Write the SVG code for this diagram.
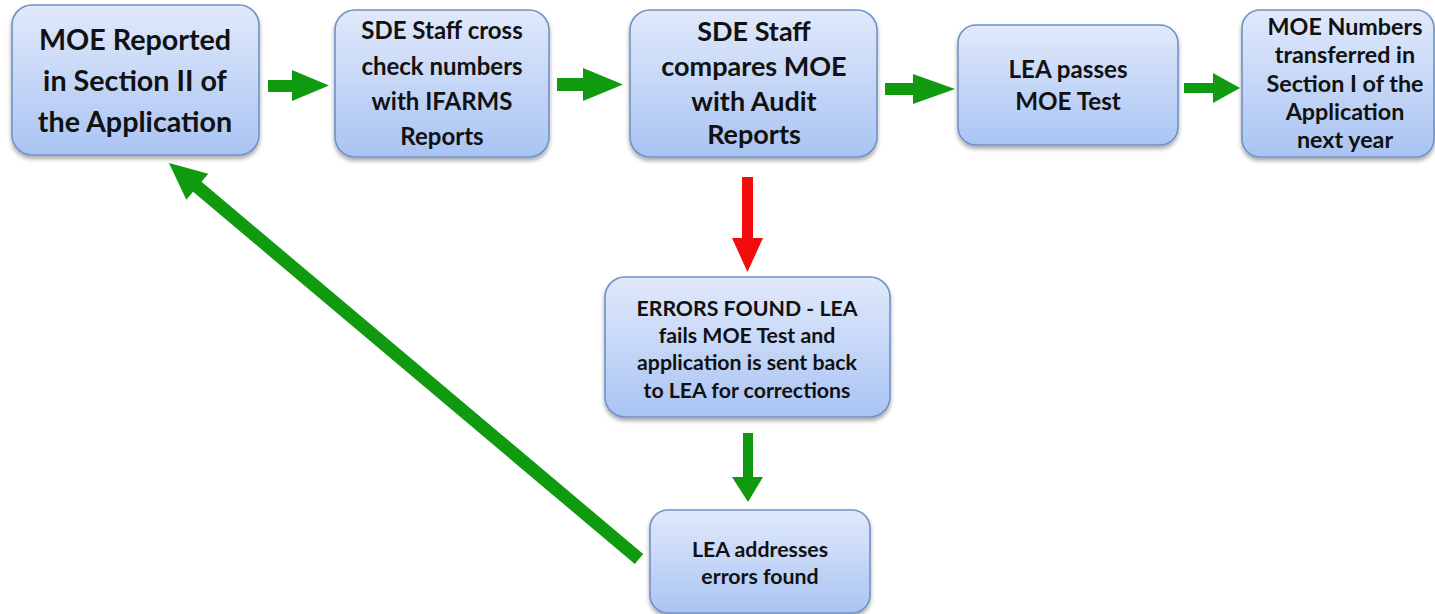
<svg xmlns="http://www.w3.org/2000/svg" width="1435" height="614" viewBox="0 0 1435 614">
<defs>
<linearGradient id="boxGrad" x1="0" y1="0" x2="0" y2="1">
<stop offset="0" stop-color="#e1e9fb"/>
<stop offset="1" stop-color="#a9c4f3"/>
</linearGradient>
<filter id="shadow" x="-10%" y="-10%" width="120%" height="130%">
<feDropShadow dx="0" dy="3" stdDeviation="2.2" flood-color="#000" flood-opacity="0.35"/>
</filter>
</defs>
<style>
.box{fill:url(#boxGrad);stroke:#6f92c6;stroke-width:1.6;filter:url(#shadow);}
.t{font-family:Lato,"Open Sans","Liberation Sans",sans-serif;font-weight:bold;fill:#111;text-anchor:middle;}
.g{fill:#0f9a0f;}
.r{fill:#f20d0d;}
</style>
<rect width="1435" height="614" fill="#fff"/>

<g id="connectors">
<polygon class="g" points="268,80 292,80 292,70 329,85.5 292,101 292,92 268,92"/>
<polygon class="g" points="557,78 583,78 583,68 623,84.5 583,101 583,91 557,91"/>
<polygon class="g" points="885,83 913,83 913,74 955,89 913,104 913,95 885,95"/>
<polygon class="g" points="1184,83 1213,83 1213,73 1240,88 1213,103 1213,93 1184,93"/>
<polygon class="r" points="742,177 753,177 753,238 763,238 747.5,272 732,238 742,238"/>
<polygon class="g" points="743,433 753,433 753,477 763,477 748,502 732,477 743,477"/>
<polygon class="g" points="169,163 208.3,173.8 201.5,181.8 643.2,554 634.8,564 193.1,191.8 186.3,199.8"/>
</g>

<g id="n1">
<rect class="box" x="12" y="5" width="247" height="150" rx="20"/>
<text class="t" font-size="28.7" x="135" y="50">MOE Reported</text>
<text class="t" font-size="28.7" x="135" y="91">in Section II of</text>
<text class="t" font-size="28.7" x="135" y="132">the Application</text>
</g>

<g id="n2">
<rect class="box" x="335" y="10" width="214" height="147" rx="20"/>
<text class="t" font-size="24" x="442" y="39">SDE Staff cross</text>
<text class="t" font-size="24" x="442" y="75">check numbers</text>
<text class="t" font-size="24" x="442" y="110">with IFARMS</text>
<text class="t" font-size="24" x="442" y="145">Reports</text>
</g>

<g id="n3">
<rect class="box" x="630" y="10" width="247" height="147" rx="20"/>
<text class="t" font-size="27" x="754" y="41">SDE Staff</text>
<text class="t" font-size="27" x="754" y="76">compares MOE</text>
<text class="t" font-size="27" x="754" y="111">with Audit</text>
<text class="t" font-size="27" x="754" y="144">Reports</text>
</g>

<g id="n4">
<rect class="box" x="958" y="25" width="220" height="120" rx="18"/>
<text class="t" font-size="24.2" x="1068" y="78">LEA passes</text>
<text class="t" font-size="24.2" x="1068" y="110">MOE Test</text>
</g>

<g id="n5">
<rect class="box" x="1242" y="10" width="192" height="147" rx="18"/>
<text class="t" font-size="23.3" x="1345" y="35">MOE Numbers</text>
<text class="t" font-size="23.3" x="1345" y="63">transferred in</text>
<text class="t" font-size="23.3" x="1345" y="92">Section I of the</text>
<text class="t" font-size="23.3" x="1345" y="120">Application</text>
<text class="t" font-size="23.3" x="1345" y="148">next year</text>
</g>

<g id="n6">
<rect class="box" x="605" y="277" width="285" height="140" rx="20"/>
<text class="t" font-size="21.3" x="747" y="316">ERRORS FOUND - LEA</text>
<text class="t" font-size="21.3" x="747" y="343">fails MOE Test and</text>
<text class="t" font-size="21.3" x="747" y="370">application is sent back</text>
<text class="t" font-size="21.3" x="747" y="398">to LEA for corrections</text>
</g>

<g id="n7">
<rect class="box" x="650" y="510" width="220" height="103" rx="18"/>
<text class="t" font-size="21.3" x="760" y="557">LEA addresses</text>
<text class="t" font-size="21.3" x="760" y="584">errors found</text>
</g>
</svg>
